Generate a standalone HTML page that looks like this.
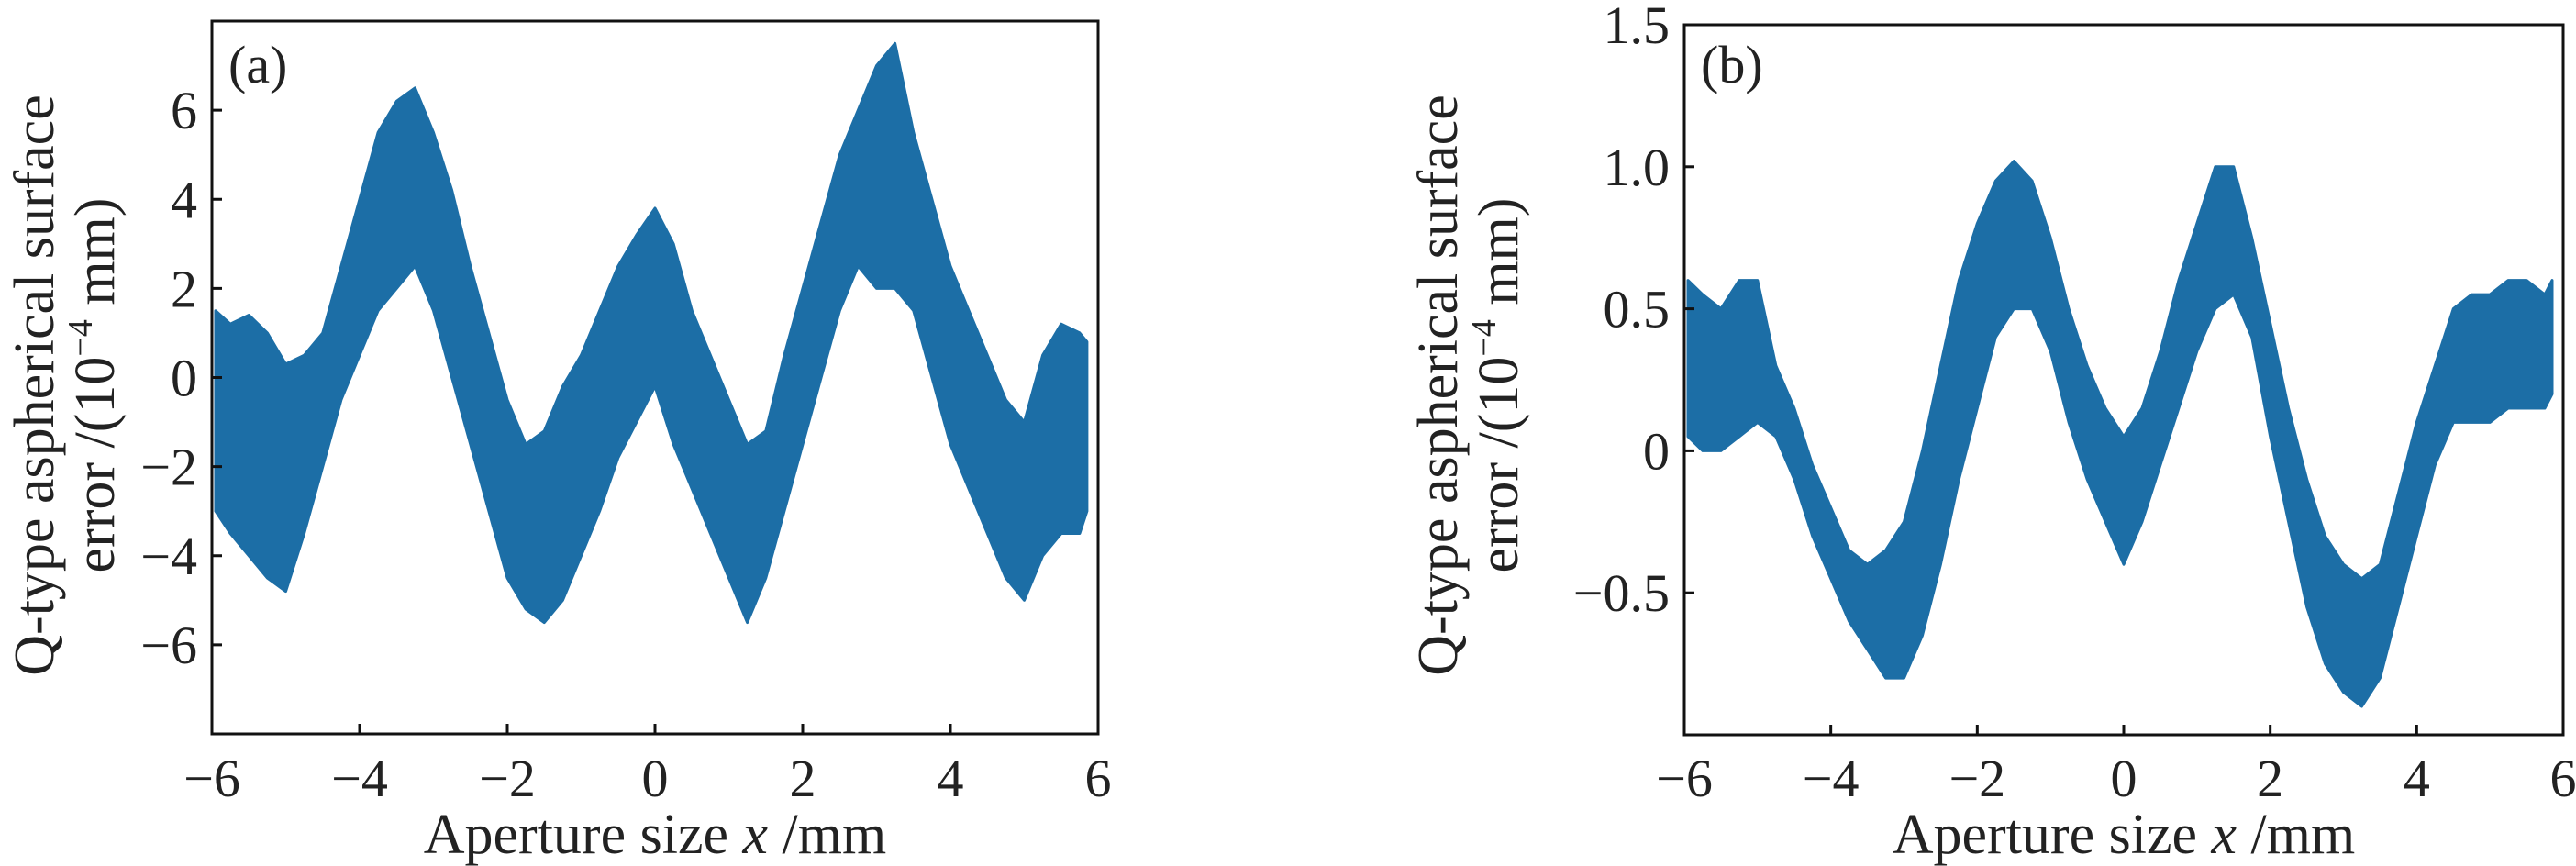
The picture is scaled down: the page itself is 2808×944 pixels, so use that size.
<!DOCTYPE html>
<html><head><meta charset="utf-8"><style>
html,body{margin:0;padding:0;background:#fff;}
svg{display:block;}
text{font-family:"Liberation Serif",serif;fill:#222;}
</style></head><body>
<svg id="fig" width="2808" height="944" viewBox="0 0 2808 944" xmlns="http://www.w3.org/2000/svg"></svg>
<script>
const xVals=[-5.95,-5.75,-5.5,-5.25,-5,-4.75,-4.5,-4.25,-4,-3.75,-3.5,-3.25,-3,-2.75,-2.5,-2.25,-2,-1.75,-1.5,-1.25,-1,-0.75,-0.5,-0.25,0,0.25,0.5,0.75,1,1.25,1.5,1.75,2,2.25,2.5,2.75,3,3.25,3.5,3.75,4,4.25,4.5,4.75,5,5.25,5.5,5.75,5.85];
const upperA=[1.5,1.2,1.4,1.0,0.3,0.5,1.0,2.5,4.0,5.5,6.2,6.5,5.5,4.2,2.5,1.0,-0.5,-1.5,-1.2,-0.2,0.5,1.5,2.5,3.2,3.8,3.0,1.5,0.5,-0.5,-1.5,-1.2,0.5,2.0,3.5,5.0,6.0,7.0,7.5,5.5,4.0,2.5,1.5,0.5,-0.5,-1.0,0.5,1.2,1.0,0.8];
const lowerA=[-3,-3.5,-4,-4.5,-4.8,-3.5,-2,-0.5,0.5,1.5,2,2.5,1.5,0,-1.5,-3,-4.5,-5.2,-5.5,-5,-4,-3,-1.8,-1,-0.2,-1.5,-2.5,-3.5,-4.5,-5.5,-4.5,-3,-1.5,0,1.5,2.5,2,2,1.5,0,-1.5,-2.5,-3.5,-4.5,-5,-4,-3.5,-3.5,-3];
const upperB=[0.6,0.55,0.5,0.6,0.6,0.3,0.15,-0.05,-0.2,-0.35,-0.4,-0.35,-0.25,0,0.3,0.6,0.8,0.95,1.02,0.95,0.75,0.5,0.3,0.15,0.05,0.15,0.35,0.6,0.8,1.0,1.0,0.75,0.45,0.15,-0.1,-0.3,-0.4,-0.45,-0.4,-0.15,0.1,0.3,0.5,0.55,0.55,0.6,0.6,0.55,0.6];
const lowerB=[0.05,0,0,0.05,0.1,0.05,-0.1,-0.3,-0.45,-0.6,-0.7,-0.8,-0.8,-0.65,-0.4,-0.1,0.15,0.4,0.5,0.5,0.35,0.1,-0.1,-0.25,-0.4,-0.25,-0.05,0.15,0.35,0.5,0.55,0.4,0.05,-0.25,-0.55,-0.75,-0.85,-0.9,-0.8,-0.55,-0.3,-0.05,0.1,0.1,0.1,0.15,0.15,0.15,0.2];
const xTicks=[-6,-4,-2,0,2,4,6];
const xTickLabels=["\u22126","\u22124","\u22122","0","2","4","6"];
const yTicksA=[-6,-4,-2,0,2,4,6];
const yTickLabelsA=["\u22126","\u22124","\u22122","0","2","4","6"];
const yTicksB=[-0.5,0,0.5,1.0,1.5];
const yTickLabelsB=["\u22120.5","0","0.5","1.0","1.5"];

const NS="http://www.w3.org/2000/svg";
const svg=document.getElementById('fig');
function mk(tag,attrs,parent){const e=document.createElementNS(NS,tag);for(const k in attrs)e.setAttribute(k,attrs[k]);(parent||svg).appendChild(e);return e;}

function panel(cfg){
  const g=mk('g',{});
  
  
  const sx=v=>cfg.L+(v-(-6))/12*(cfg.R-cfg.L);
  const sy=v=>cfg.B-(v-cfg.ymin)/(cfg.ymax-cfg.ymin)*(cfg.B-cfg.T);
  let pts=[];
  for(let i=0;i<xVals.length;i++)pts.push(sx(xVals[i]).toFixed(1)+','+sy(cfg.up[i]).toFixed(1));
  for(let i=xVals.length-1;i>=0;i--)pts.push(sx(xVals[i]).toFixed(1)+','+sy(cfg.lo[i]).toFixed(1));
  const band=mk('polygon',{points:pts.join(' '),fill:'#1c6ea6',stroke:'#1c6ea6','stroke-width':'3','stroke-linejoin':'round'},g);
  
  
  const fr=mk('rect',{x:cfg.L,y:cfg.T,width:cfg.R-cfg.L,height:cfg.B-cfg.T,fill:'none',stroke:'#111','stroke-width':'3'},g);
  
  
  xTicks.forEach((t,i)=>{
    const x=sx(t);
    const tk=mk('line',{x1:x,x2:x,y1:cfg.B,y2:cfg.B-11,stroke:'#111','stroke-width':'3'},g);
    
    
    const tl=mk('text',{x:x,y:868,'font-size':'58','text-anchor':'middle'},g);
    tl.textContent=xTickLabels[i];
    
    
  });
  cfg.yt.forEach((t,i)=>{
    const y=sy(t);
    const tk=mk('line',{x1:cfg.L,x2:cfg.L+11,y1:y,y2:y,stroke:'#111','stroke-width':'3'},g);
    
    
    const tl=mk('text',{x:cfg.L-16,y:y+20,'font-size':'58','text-anchor':'end'},g);
    tl.textContent=cfg.ytl[i];
    
    
  });
  const xl=mk('text',{x:(cfg.L+cfg.R)/2,y:930,'font-size':'62','text-anchor':'middle'},g);
  xl.innerHTML='Aperture size <tspan font-style="italic">x</tspan> /mm';
  
  
  const yl=mk('text',{transform:'translate('+cfg.yx+',420) rotate(-90)','font-size':'62','text-anchor':'middle'},g);
  yl.innerHTML='<tspan x="0" dy="0">Q-type aspherical surface</tspan><tspan x="0" dy="66">error /(10</tspan><tspan font-size="38" dy="-24">\u22124</tspan><tspan dy="24"> mm)</tspan>';
  
  
  const pl=mk('text',{x:cfg.L+18,y:90,'font-size':'58'},g);
  pl.textContent=cfg.label;
  
  
}
panel({name:'panel-a',L:231,R:1197,T:23,B:800,ymin:-8,ymax:8,up:upperA,lo:lowerA,yt:yTicksA,ytl:yTickLabelsA,yx:58,label:'(a)'});
panel({name:'panel-b',L:1836,R:2794,T:27,B:801,ymin:-1,ymax:1.5,up:upperB,lo:lowerB,yt:yTicksB,ytl:yTickLabelsB,yx:1588,label:'(b)'});
</script>
</body></html>
